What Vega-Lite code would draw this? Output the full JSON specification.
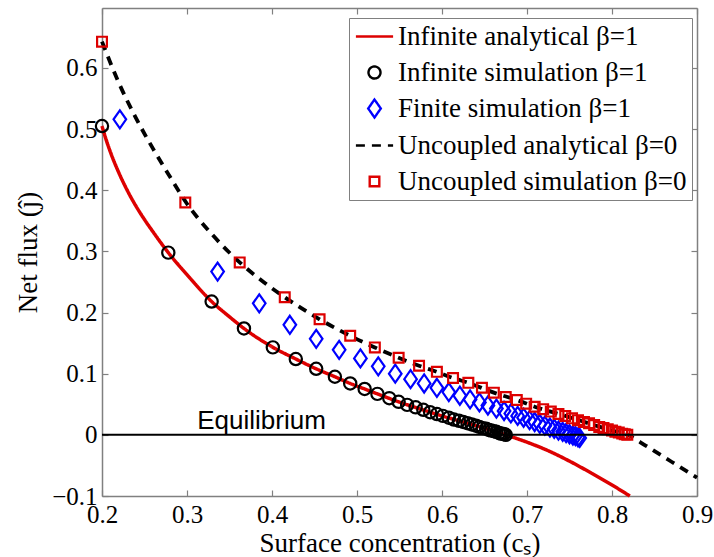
{
  "$schema": "https://vega.github.io/schema/vega-lite/v6.json",
  "width": 595,
  "height": 488,
  "autosize": {"type": "none"},
  "padding": {"left": 102, "top": 8, "right": 17, "bottom": 61},
  "background": "white",
  "config": {
    "view": {"stroke": null},
    "axis": {"grid": false, "domainColor": "#808080", "domainWidth": 1.5, "tickColor": "#808080", "tickWidth": 1.2, "tickSize": -6, "labelColor": "black", "labelFont": "Liberation Serif", "labelFontSize": 25, "titleFont": "Liberation Serif", "titleFontSize": 27, "titleFontWeight": "normal", "titleColor": "black"},
    "legend": {"symbolSize": 144, "symbolStrokeWidth": 2.4, "symbolFillColor": "transparent", "labelFont": "Liberation Serif", "labelFontSize": 27, "labelColor": "black", "labelLimit": 0, "labelOffset": 10, "symbolOffset": 7, "rowPadding": 8, "padding": 5, "strokeColor": "#808080", "fillColor": "white", "cornerRadius": 0}
  },
  "datasets": {
    "infA": [
      {"s": "Infinite analytical β=1", "x": 0.200, "y": 0.505},
      {"s": "Infinite analytical β=1", "x": 0.205, "y": 0.482},
      {"s": "Infinite analytical β=1", "x": 0.210, "y": 0.462},
      {"s": "Infinite analytical β=1", "x": 0.220, "y": 0.428},
      {"s": "Infinite analytical β=1", "x": 0.230, "y": 0.399},
      {"s": "Infinite analytical β=1", "x": 0.240, "y": 0.374},
      {"s": "Infinite analytical β=1", "x": 0.250, "y": 0.352},
      {"s": "Infinite analytical β=1", "x": 0.260, "y": 0.332},
      {"s": "Infinite analytical β=1", "x": 0.278, "y": 0.298},
      {"s": "Infinite analytical β=1", "x": 0.300, "y": 0.262},
      {"s": "Infinite analytical β=1", "x": 0.329, "y": 0.218},
      {"s": "Infinite analytical β=1", "x": 0.350, "y": 0.193},
      {"s": "Infinite analytical β=1", "x": 0.367, "y": 0.174},
      {"s": "Infinite analytical β=1", "x": 0.400, "y": 0.144},
      {"s": "Infinite analytical β=1", "x": 0.428, "y": 0.124},
      {"s": "Infinite analytical β=1", "x": 0.452, "y": 0.108},
      {"s": "Infinite analytical β=1", "x": 0.474, "y": 0.095},
      {"s": "Infinite analytical β=1", "x": 0.492, "y": 0.084},
      {"s": "Infinite analytical β=1", "x": 0.509, "y": 0.075},
      {"s": "Infinite analytical β=1", "x": 0.524, "y": 0.067},
      {"s": "Infinite analytical β=1", "x": 0.549, "y": 0.054},
      {"s": "Infinite analytical β=1", "x": 0.575, "y": 0.042},
      {"s": "Infinite analytical β=1", "x": 0.600, "y": 0.031},
      {"s": "Infinite analytical β=1", "x": 0.625, "y": 0.021},
      {"s": "Infinite analytical β=1", "x": 0.650, "y": 0.011},
      {"s": "Infinite analytical β=1", "x": 0.675, "y": 0.000},
      {"s": "Infinite analytical β=1", "x": 0.700, "y": -0.012},
      {"s": "Infinite analytical β=1", "x": 0.725, "y": -0.026},
      {"s": "Infinite analytical β=1", "x": 0.750, "y": -0.043},
      {"s": "Infinite analytical β=1", "x": 0.775, "y": -0.062},
      {"s": "Infinite analytical β=1", "x": 0.800, "y": -0.082},
      {"s": "Infinite analytical β=1", "x": 0.821, "y": -0.100}
    ],
    "uncA": [
      {"s": "Uncoupled analytical β=0", "x": 0.200, "y": 0.643},
      {"s": "Uncoupled analytical β=0", "x": 0.220, "y": 0.575},
      {"s": "Uncoupled analytical β=0", "x": 0.240, "y": 0.518},
      {"s": "Uncoupled analytical β=0", "x": 0.260, "y": 0.468},
      {"s": "Uncoupled analytical β=0", "x": 0.280, "y": 0.422},
      {"s": "Uncoupled analytical β=0", "x": 0.298, "y": 0.382},
      {"s": "Uncoupled analytical β=0", "x": 0.330, "y": 0.327},
      {"s": "Uncoupled analytical β=0", "x": 0.362, "y": 0.282},
      {"s": "Uncoupled analytical β=0", "x": 0.390, "y": 0.250},
      {"s": "Uncoupled analytical β=0", "x": 0.415, "y": 0.225},
      {"s": "Uncoupled analytical β=0", "x": 0.456, "y": 0.189},
      {"s": "Uncoupled analytical β=0", "x": 0.492, "y": 0.162},
      {"s": "Uncoupled analytical β=0", "x": 0.521, "y": 0.143},
      {"s": "Uncoupled analytical β=0", "x": 0.549, "y": 0.126},
      {"s": "Uncoupled analytical β=0", "x": 0.573, "y": 0.113},
      {"s": "Uncoupled analytical β=0", "x": 0.594, "y": 0.103},
      {"s": "Uncoupled analytical β=0", "x": 0.613, "y": 0.093},
      {"s": "Uncoupled analytical β=0", "x": 0.631, "y": 0.085},
      {"s": "Uncoupled analytical β=0", "x": 0.661, "y": 0.069},
      {"s": "Uncoupled analytical β=0", "x": 0.688, "y": 0.057},
      {"s": "Uncoupled analytical β=0", "x": 0.709, "y": 0.046},
      {"s": "Uncoupled analytical β=0", "x": 0.745, "y": 0.031},
      {"s": "Uncoupled analytical β=0", "x": 0.779, "y": 0.016},
      {"s": "Uncoupled analytical β=0", "x": 0.800, "y": 0.007},
      {"s": "Uncoupled analytical β=0", "x": 0.818, "y": 0.000},
      {"s": "Uncoupled analytical β=0", "x": 0.840, "y": -0.018},
      {"s": "Uncoupled analytical β=0", "x": 0.870, "y": -0.044},
      {"s": "Uncoupled analytical β=0", "x": 0.900, "y": -0.070}
    ],
    "infS": [
      {"s": "Infinite simulation β=1", "x": 0.200, "y": 0.505},
      {"s": "Infinite simulation β=1", "x": 0.278, "y": 0.298},
      {"s": "Infinite simulation β=1", "x": 0.329, "y": 0.218},
      {"s": "Infinite simulation β=1", "x": 0.367, "y": 0.174},
      {"s": "Infinite simulation β=1", "x": 0.401, "y": 0.143},
      {"s": "Infinite simulation β=1", "x": 0.428, "y": 0.124},
      {"s": "Infinite simulation β=1", "x": 0.452, "y": 0.108},
      {"s": "Infinite simulation β=1", "x": 0.474, "y": 0.095},
      {"s": "Infinite simulation β=1", "x": 0.492, "y": 0.084},
      {"s": "Infinite simulation β=1", "x": 0.509, "y": 0.075},
      {"s": "Infinite simulation β=1", "x": 0.524, "y": 0.067},
      {"s": "Infinite simulation β=1", "x": 0.538, "y": 0.060},
      {"s": "Infinite simulation β=1", "x": 0.549, "y": 0.054},
      {"s": "Infinite simulation β=1", "x": 0.559, "y": 0.049},
      {"s": "Infinite simulation β=1", "x": 0.569, "y": 0.045},
      {"s": "Infinite simulation β=1", "x": 0.578, "y": 0.041},
      {"s": "Infinite simulation β=1", "x": 0.586, "y": 0.037},
      {"s": "Infinite simulation β=1", "x": 0.594, "y": 0.034},
      {"s": "Infinite simulation β=1", "x": 0.601, "y": 0.031},
      {"s": "Infinite simulation β=1", "x": 0.608, "y": 0.028},
      {"s": "Infinite simulation β=1", "x": 0.614, "y": 0.025},
      {"s": "Infinite simulation β=1", "x": 0.620, "y": 0.023},
      {"s": "Infinite simulation β=1", "x": 0.625, "y": 0.021},
      {"s": "Infinite simulation β=1", "x": 0.630, "y": 0.019},
      {"s": "Infinite simulation β=1", "x": 0.635, "y": 0.017},
      {"s": "Infinite simulation β=1", "x": 0.640, "y": 0.015},
      {"s": "Infinite simulation β=1", "x": 0.644, "y": 0.013},
      {"s": "Infinite simulation β=1", "x": 0.648, "y": 0.011},
      {"s": "Infinite simulation β=1", "x": 0.652, "y": 0.010},
      {"s": "Infinite simulation β=1", "x": 0.655, "y": 0.008},
      {"s": "Infinite simulation β=1", "x": 0.658, "y": 0.007},
      {"s": "Infinite simulation β=1", "x": 0.661, "y": 0.006},
      {"s": "Infinite simulation β=1", "x": 0.664, "y": 0.005},
      {"s": "Infinite simulation β=1", "x": 0.667, "y": 0.003},
      {"s": "Infinite simulation β=1", "x": 0.669, "y": 0.002},
      {"s": "Infinite simulation β=1", "x": 0.671, "y": 0.002},
      {"s": "Infinite simulation β=1", "x": 0.673, "y": 0.001},
      {"s": "Infinite simulation β=1", "x": 0.675, "y": 0.000}
    ],
    "finS": [
      {"s": "Finite simulation β=1", "x": 0.221, "y": 0.516},
      {"s": "Finite simulation β=1", "x": 0.336, "y": 0.267},
      {"s": "Finite simulation β=1", "x": 0.385, "y": 0.215},
      {"s": "Finite simulation β=1", "x": 0.421, "y": 0.180},
      {"s": "Finite simulation β=1", "x": 0.452, "y": 0.157},
      {"s": "Finite simulation β=1", "x": 0.479, "y": 0.139},
      {"s": "Finite simulation β=1", "x": 0.504, "y": 0.125},
      {"s": "Finite simulation β=1", "x": 0.525, "y": 0.112},
      {"s": "Finite simulation β=1", "x": 0.545, "y": 0.100},
      {"s": "Finite simulation β=1", "x": 0.563, "y": 0.091},
      {"s": "Finite simulation β=1", "x": 0.579, "y": 0.084},
      {"s": "Finite simulation β=1", "x": 0.594, "y": 0.077},
      {"s": "Finite simulation β=1", "x": 0.608, "y": 0.070},
      {"s": "Finite simulation β=1", "x": 0.621, "y": 0.064},
      {"s": "Finite simulation β=1", "x": 0.633, "y": 0.058},
      {"s": "Finite simulation β=1", "x": 0.644, "y": 0.053},
      {"s": "Finite simulation β=1", "x": 0.654, "y": 0.048},
      {"s": "Finite simulation β=1", "x": 0.664, "y": 0.043},
      {"s": "Finite simulation β=1", "x": 0.673, "y": 0.039},
      {"s": "Finite simulation β=1", "x": 0.681, "y": 0.035},
      {"s": "Finite simulation β=1", "x": 0.689, "y": 0.031},
      {"s": "Finite simulation β=1", "x": 0.696, "y": 0.028},
      {"s": "Finite simulation β=1", "x": 0.703, "y": 0.024},
      {"s": "Finite simulation β=1", "x": 0.709, "y": 0.021},
      {"s": "Finite simulation β=1", "x": 0.715, "y": 0.018},
      {"s": "Finite simulation β=1", "x": 0.721, "y": 0.015},
      {"s": "Finite simulation β=1", "x": 0.727, "y": 0.012},
      {"s": "Finite simulation β=1", "x": 0.732, "y": 0.010},
      {"s": "Finite simulation β=1", "x": 0.737, "y": 0.007},
      {"s": "Finite simulation β=1", "x": 0.742, "y": 0.005},
      {"s": "Finite simulation β=1", "x": 0.746, "y": 0.003},
      {"s": "Finite simulation β=1", "x": 0.750, "y": 0.001},
      {"s": "Finite simulation β=1", "x": 0.754, "y": -0.001},
      {"s": "Finite simulation β=1", "x": 0.757, "y": -0.002},
      {"s": "Finite simulation β=1", "x": 0.760, "y": -0.004},
      {"s": "Finite simulation β=1", "x": 0.762, "y": -0.005}
    ],
    "uncS": [
      {"s": "Uncoupled simulation β=0", "x": 0.200, "y": 0.643},
      {"s": "Uncoupled simulation β=0", "x": 0.298, "y": 0.380},
      {"s": "Uncoupled simulation β=0", "x": 0.362, "y": 0.282},
      {"s": "Uncoupled simulation β=0", "x": 0.415, "y": 0.225},
      {"s": "Uncoupled simulation β=0", "x": 0.456, "y": 0.189},
      {"s": "Uncoupled simulation β=0", "x": 0.492, "y": 0.162},
      {"s": "Uncoupled simulation β=0", "x": 0.521, "y": 0.143},
      {"s": "Uncoupled simulation β=0", "x": 0.549, "y": 0.126},
      {"s": "Uncoupled simulation β=0", "x": 0.573, "y": 0.113},
      {"s": "Uncoupled simulation β=0", "x": 0.594, "y": 0.103},
      {"s": "Uncoupled simulation β=0", "x": 0.613, "y": 0.093},
      {"s": "Uncoupled simulation β=0", "x": 0.631, "y": 0.085},
      {"s": "Uncoupled simulation β=0", "x": 0.647, "y": 0.077},
      {"s": "Uncoupled simulation β=0", "x": 0.661, "y": 0.069},
      {"s": "Uncoupled simulation β=0", "x": 0.675, "y": 0.062},
      {"s": "Uncoupled simulation β=0", "x": 0.688, "y": 0.057},
      {"s": "Uncoupled simulation β=0", "x": 0.699, "y": 0.051},
      {"s": "Uncoupled simulation β=0", "x": 0.709, "y": 0.046},
      {"s": "Uncoupled simulation β=0", "x": 0.719, "y": 0.042},
      {"s": "Uncoupled simulation β=0", "x": 0.728, "y": 0.038},
      {"s": "Uncoupled simulation β=0", "x": 0.737, "y": 0.034},
      {"s": "Uncoupled simulation β=0", "x": 0.745, "y": 0.031},
      {"s": "Uncoupled simulation β=0", "x": 0.753, "y": 0.027},
      {"s": "Uncoupled simulation β=0", "x": 0.760, "y": 0.024},
      {"s": "Uncoupled simulation β=0", "x": 0.767, "y": 0.021},
      {"s": "Uncoupled simulation β=0", "x": 0.773, "y": 0.019},
      {"s": "Uncoupled simulation β=0", "x": 0.779, "y": 0.016},
      {"s": "Uncoupled simulation β=0", "x": 0.785, "y": 0.013},
      {"s": "Uncoupled simulation β=0", "x": 0.790, "y": 0.011},
      {"s": "Uncoupled simulation β=0", "x": 0.795, "y": 0.009},
      {"s": "Uncoupled simulation β=0", "x": 0.800, "y": 0.007},
      {"s": "Uncoupled simulation β=0", "x": 0.804, "y": 0.005},
      {"s": "Uncoupled simulation β=0", "x": 0.808, "y": 0.004},
      {"s": "Uncoupled simulation β=0", "x": 0.812, "y": 0.002},
      {"s": "Uncoupled simulation β=0", "x": 0.815, "y": 0.001},
      {"s": "Uncoupled simulation β=0", "x": 0.818, "y": 0.000}
    ],
    "eq": [{"y": 0, "x": 0.312, "ty": 0.0098, "label": "Equilibrium"}]
  },
  "layer": [
    {
      "data": {"name": "infA"},
      "mark": {"type": "line", "strokeWidth": 3.5, "interpolate": "monotone"},
      "encoding": {
        "x": {"field": "x", "type": "quantitative", "scale": {"domain": [0.2, 0.9], "nice": false, "zero": false},
              "axis": {"orient": "bottom", "values": [0.2, 0.3, 0.4, 0.5, 0.6, 0.7, 0.8, 0.9], "format": ".1f", "labelPadding": 12, "labelFlush": false, "labelOverlap": false, "title": "Surface concentration (cₛ)", "titleBaseline": "alphabetic", "titleY": 55}},
        "y": {"field": "y", "type": "quantitative", "scale": {"domain": [-0.1, 0.698], "nice": false, "zero": false},
              "axis": {"orient": "left", "values": [-0.1, 0, 0.1, 0.2, 0.3, 0.4, 0.5, 0.6], "labelExpr": "datum.value === 0 ? '0' : format(datum.value, '.1f')", "labelPadding": 11, "labelFlush": false, "labelOverlap": false, "title": "Net flux (ĵ)", "titleBaseline": "middle", "titleX": -74}},
        "color": {"field": "s", "type": "nominal",
                  "scale": {"domain": ["Infinite analytical β=1", "Infinite simulation β=1", "Finite simulation β=1", "Uncoupled analytical β=0", "Uncoupled simulation β=0"], "range": ["#dd0000", "#000000", "#0000ff", "#000000", "#dd0000"]},
                  "legend": {"title": null, "orient": "none", "legendX": 247, "legendY": 10, "direction": "vertical"}},
        "strokeDash": {"field": "s", "type": "nominal",
                  "scale": {"domain": ["Infinite analytical β=1", "Infinite simulation β=1", "Finite simulation β=1", "Uncoupled analytical β=0", "Uncoupled simulation β=0"], "range": [[1, 0], [1, 0], [1, 0], [9, 7], [1, 0]]},
                  "legend": {"title": null, "orient": "none", "legendX": 247, "legendY": 10, "direction": "vertical"}}
      }
    },
    {
      "data": {"name": "uncA"},
      "mark": {"type": "line", "strokeWidth": 3.8, "interpolate": "monotone"},
      "encoding": {
        "x": {"field": "x", "type": "quantitative", "scale": {"domain": [0.2, 0.9], "nice": false, "zero": false},
              "axis": {"orient": "top", "values": [0.2, 0.3, 0.4, 0.5, 0.6, 0.7, 0.8, 0.9], "labels": false, "title": null}},
        "y": {"field": "y", "type": "quantitative", "scale": {"domain": [-0.1, 0.698], "nice": false, "zero": false},
              "axis": {"orient": "right", "values": [-0.1, 0, 0.1, 0.2, 0.3, 0.4, 0.5, 0.6], "labels": false, "title": null}},
        "color": {"field": "s", "type": "nominal",
                  "scale": {"domain": ["Infinite analytical β=1", "Infinite simulation β=1", "Finite simulation β=1", "Uncoupled analytical β=0", "Uncoupled simulation β=0"], "range": ["#dd0000", "#000000", "#0000ff", "#000000", "#dd0000"]},
                  "legend": {"title": null, "orient": "none", "legendX": 247, "legendY": 10, "direction": "vertical"}},
        "strokeDash": {"field": "s", "type": "nominal",
                  "scale": {"domain": ["Infinite analytical β=1", "Infinite simulation β=1", "Finite simulation β=1", "Uncoupled analytical β=0", "Uncoupled simulation β=0"], "range": [[1, 0], [1, 0], [1, 0], [9, 7], [1, 0]]},
                  "legend": {"title": null, "orient": "none", "legendX": 247, "legendY": 10, "direction": "vertical"}}
      }
    },
    {
      "data": {"name": "infS"},
      "mark": {"type": "point", "filled": false, "size": 150, "strokeWidth": 2.2, "opacity": 1},
      "encoding": {
        "x": {"field": "x", "type": "quantitative", "scale": {"domain": [0.2, 0.9], "nice": false, "zero": false}, "axis": null},
        "y": {"field": "y", "type": "quantitative", "scale": {"domain": [-0.1, 0.698], "nice": false, "zero": false}, "axis": null},
        "color": {"field": "s", "type": "nominal",
                  "scale": {"domain": ["Infinite analytical β=1", "Infinite simulation β=1", "Finite simulation β=1", "Uncoupled analytical β=0", "Uncoupled simulation β=0"], "range": ["#dd0000", "#000000", "#0000ff", "#000000", "#dd0000"]},
                  "legend": {"title": null, "orient": "none", "legendX": 247, "legendY": 10, "direction": "vertical"}},
        "shape": {"field": "s", "type": "nominal",
                  "scale": {"domain": ["Infinite analytical β=1", "Infinite simulation β=1", "Finite simulation β=1", "Uncoupled analytical β=0", "Uncoupled simulation β=0"], "range": ["M-3.1,0L3.1,0", "circle", "M0,-1.5L1.05,0L0,1.5L-1.05,0Z", "M-3.1,0L3.1,0", "M-0.8,-0.8L0.8,-0.8L0.8,0.8L-0.8,0.8Z"]},
                  "legend": {"title": null, "orient": "none", "legendX": 247, "legendY": 10, "direction": "vertical"}}
      }
    },
    {
      "data": {"name": "finS"},
      "mark": {"type": "point", "filled": false, "size": 144, "strokeWidth": 2.2, "opacity": 1},
      "encoding": {
        "x": {"field": "x", "type": "quantitative", "scale": {"domain": [0.2, 0.9], "nice": false, "zero": false}, "axis": null},
        "y": {"field": "y", "type": "quantitative", "scale": {"domain": [-0.1, 0.698], "nice": false, "zero": false}, "axis": null},
        "color": {"field": "s", "type": "nominal",
                  "scale": {"domain": ["Infinite analytical β=1", "Infinite simulation β=1", "Finite simulation β=1", "Uncoupled analytical β=0", "Uncoupled simulation β=0"], "range": ["#dd0000", "#000000", "#0000ff", "#000000", "#dd0000"]},
                  "legend": {"title": null, "orient": "none", "legendX": 247, "legendY": 10, "direction": "vertical"}},
        "shape": {"field": "s", "type": "nominal",
                  "scale": {"domain": ["Infinite analytical β=1", "Infinite simulation β=1", "Finite simulation β=1", "Uncoupled analytical β=0", "Uncoupled simulation β=0"], "range": ["M-3.1,0L3.1,0", "circle", "M0,-1.5L1.05,0L0,1.5L-1.05,0Z", "M-3.1,0L3.1,0", "M-0.8,-0.8L0.8,-0.8L0.8,0.8L-0.8,0.8Z"]},
                  "legend": {"title": null, "orient": "none", "legendX": 247, "legendY": 10, "direction": "vertical"}}
      }
    },
    {
      "data": {"name": "uncS"},
      "mark": {"type": "point", "filled": false, "size": 150, "strokeWidth": 2.2, "opacity": 1},
      "encoding": {
        "x": {"field": "x", "type": "quantitative", "scale": {"domain": [0.2, 0.9], "nice": false, "zero": false}, "axis": null},
        "y": {"field": "y", "type": "quantitative", "scale": {"domain": [-0.1, 0.698], "nice": false, "zero": false}, "axis": null},
        "color": {"field": "s", "type": "nominal",
                  "scale": {"domain": ["Infinite analytical β=1", "Infinite simulation β=1", "Finite simulation β=1", "Uncoupled analytical β=0", "Uncoupled simulation β=0"], "range": ["#dd0000", "#000000", "#0000ff", "#000000", "#dd0000"]},
                  "legend": {"title": null, "orient": "none", "legendX": 247, "legendY": 10, "direction": "vertical"}},
        "shape": {"field": "s", "type": "nominal",
                  "scale": {"domain": ["Infinite analytical β=1", "Infinite simulation β=1", "Finite simulation β=1", "Uncoupled analytical β=0", "Uncoupled simulation β=0"], "range": ["M-3.1,0L3.1,0", "circle", "M0,-1.5L1.05,0L0,1.5L-1.05,0Z", "M-3.1,0L3.1,0", "M-0.8,-0.8L0.8,-0.8L0.8,0.8L-0.8,0.8Z"]},
                  "legend": {"title": null, "orient": "none", "legendX": 247, "legendY": 10, "direction": "vertical"}}
      }
    },
    {
      "data": {"name": "eq"},
      "mark": {"type": "rule", "color": "black", "strokeWidth": 2},
      "encoding": {
        "y": {"field": "y", "type": "quantitative", "scale": {"domain": [-0.1, 0.698], "nice": false, "zero": false}, "axis": null}
      }
    },
    {
      "data": {"name": "eq"},
      "mark": {"type": "text", "font": "Liberation Sans", "fontSize": 26, "align": "left", "baseline": "alphabetic", "color": "black"},
      "encoding": {
        "x": {"field": "x", "type": "quantitative", "scale": {"domain": [0.2, 0.9], "nice": false, "zero": false}, "axis": null},
        "y": {"field": "ty", "type": "quantitative", "scale": {"domain": [-0.1, 0.698], "nice": false, "zero": false}, "axis": null},
        "text": {"field": "label"}
      }
    }
  ],
  "resolve": {"axis": {"x": "independent", "y": "independent"}}
}
